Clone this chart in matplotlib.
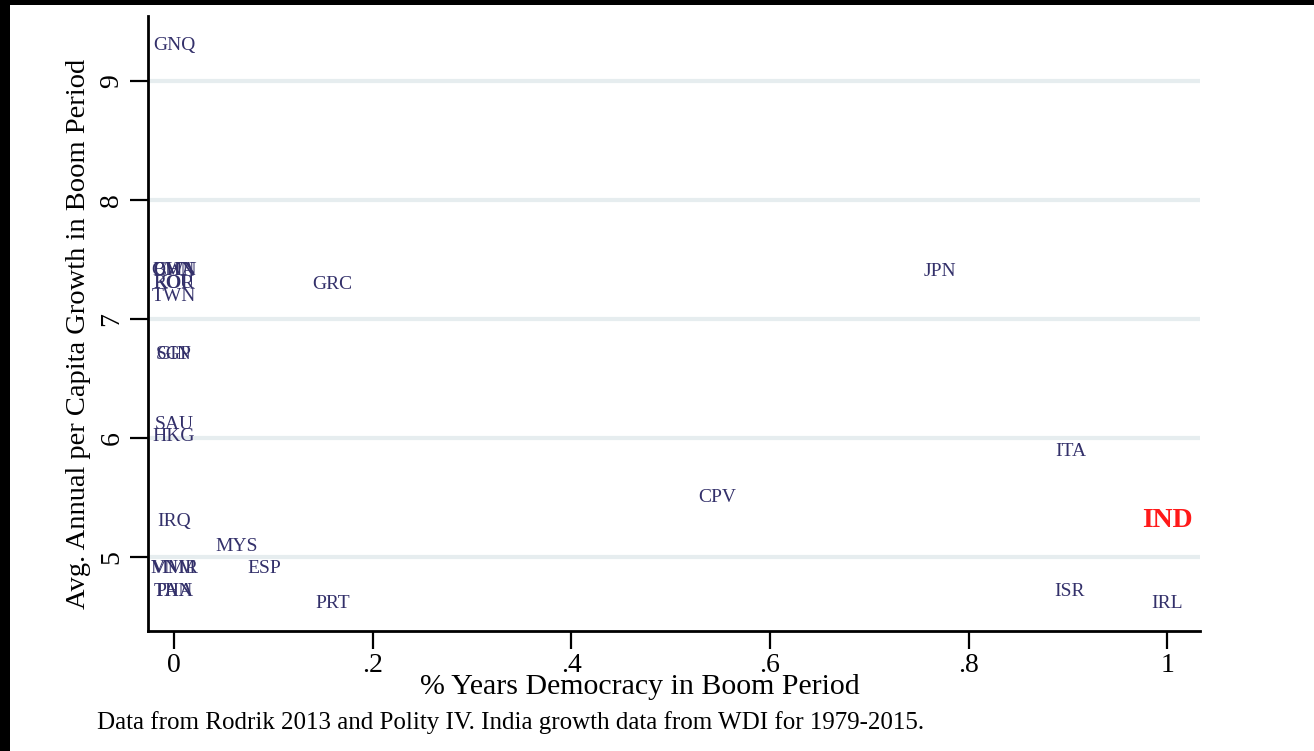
import matplotlib
matplotlib.use("Agg")
import matplotlib.pyplot as plt
from matplotlib.patches import Rectangle

# Country codes, share of boom years under democracy, growth during boom
codes = ["GNQ", "CHN", "BWA", "OMN", "KOR", "ROU", "TWN", "SGP", "GIN",
         "SAU", "HKG", "IRQ", "MYS", "MMR", "VNM", "ESP", "THA", "PAN",
         "PRT", "GRC", "JPN", "CPV", "ITA", "ISR", "IRL"]
democracy = [0.0, 0.0, 0.0, 0.0, 0.0, 0.0, 0.0, 0.0, 0.0,
             0.0, 0.0, 0.0, 0.063, 0.0, 0.0, 0.091, 0.0, 0.0,
             0.160, 0.159, 0.771, 0.547, 0.903, 0.902, 1.0]
growth = [9.30, 7.41, 7.41, 7.41, 7.30, 7.30, 7.19, 6.70, 6.70,
          6.11, 6.01, 5.30, 5.09, 4.90, 4.90, 4.90, 4.71, 4.71,
          4.61, 7.29, 7.40, 5.50, 5.89, 4.71, 4.61]

# India, highlighted
india_code = "IND"
india_democracy = 1.0
india_growth = 5.31

x_ticks = [0, 0.2, 0.4, 0.6, 0.8, 1.0]
x_ticklabels = ["0", ".2", ".4", ".6", ".8", "1"]
y_ticks = [5, 6, 7, 8, 9]
y_ticklabels = ["5", "6", "7", "8", "9"]

serif = ["Liberation Serif", "DejaVu Serif"]
plt.rcParams["font.family"] = serif

W, H = 1314, 751
fig = plt.figure(figsize=(W / 100, H / 100), dpi=100)
fig.patch.set_facecolor("white")

ax = fig.add_axes([148 / W, 1 - 631 / H, (1200 - 148) / W, (631 - 16) / H])
ax.set_xlim(-0.0262, 1.033)
ax.set_ylim(4.378, 9.546)

for s in ["top", "right"]:
    ax.spines[s].set_visible(False)
for s in ["left", "bottom"]:
    ax.spines[s].set_linewidth(2.0)
    ax.spines[s].set_color("black")

ax.set_yticks(y_ticks)
ax.set_yticklabels(y_ticklabels, rotation=90, va="center", fontsize=20)
ax.set_xticks(x_ticks)
ax.set_xticklabels(x_ticklabels, fontsize=20)
ax.tick_params(axis="both", direction="out", length=13, width=1.6, color="black")
ax.tick_params(axis="y", pad=4)
ax.tick_params(axis="x", pad=3)

for yv in y_ticks:
    ax.axhline(yv, color="#e6edef", linewidth=3, zorder=0)

label_color = "#33306a"
for c, xv, yv in zip(codes, democracy, growth):
    ax.text(xv, yv, c, ha="center", va="center", fontsize=14,
            color=label_color, zorder=3)

ax.text(india_democracy, india_growth, india_code, ha="center", va="center",
        fontsize=20, fontweight="bold", color="#ff1a1a", zorder=4)

fig.text(79 / W, 1 - 334 / H, "Avg. Annual per Capita Growth in Boom Period",
         rotation=90, ha="center", va="center", fontsize=20.5)
fig.text(640 / W, 1 - 687 / H, "% Years Democracy in Boom Period",
         ha="center", va="center", fontsize=21.5)
fig.text(97 / W, 1 - 723 / H,
         "Data from Rodrik 2013 and Polity IV. India growth data from WDI for 1979-2015.",
         ha="left", va="center", fontsize=18)

# dark frame strips along the top and left edges
fig.patches.append(Rectangle((0, 1 - 5 / H), 1, 5 / H, transform=fig.transFigure,
                             facecolor="black", edgecolor="none", zorder=10))
fig.patches.append(Rectangle((0, 0), 10 / W, 1, transform=fig.transFigure,
                             facecolor="black", edgecolor="none", zorder=10))

fig.savefig("out.png", dpi=100)
